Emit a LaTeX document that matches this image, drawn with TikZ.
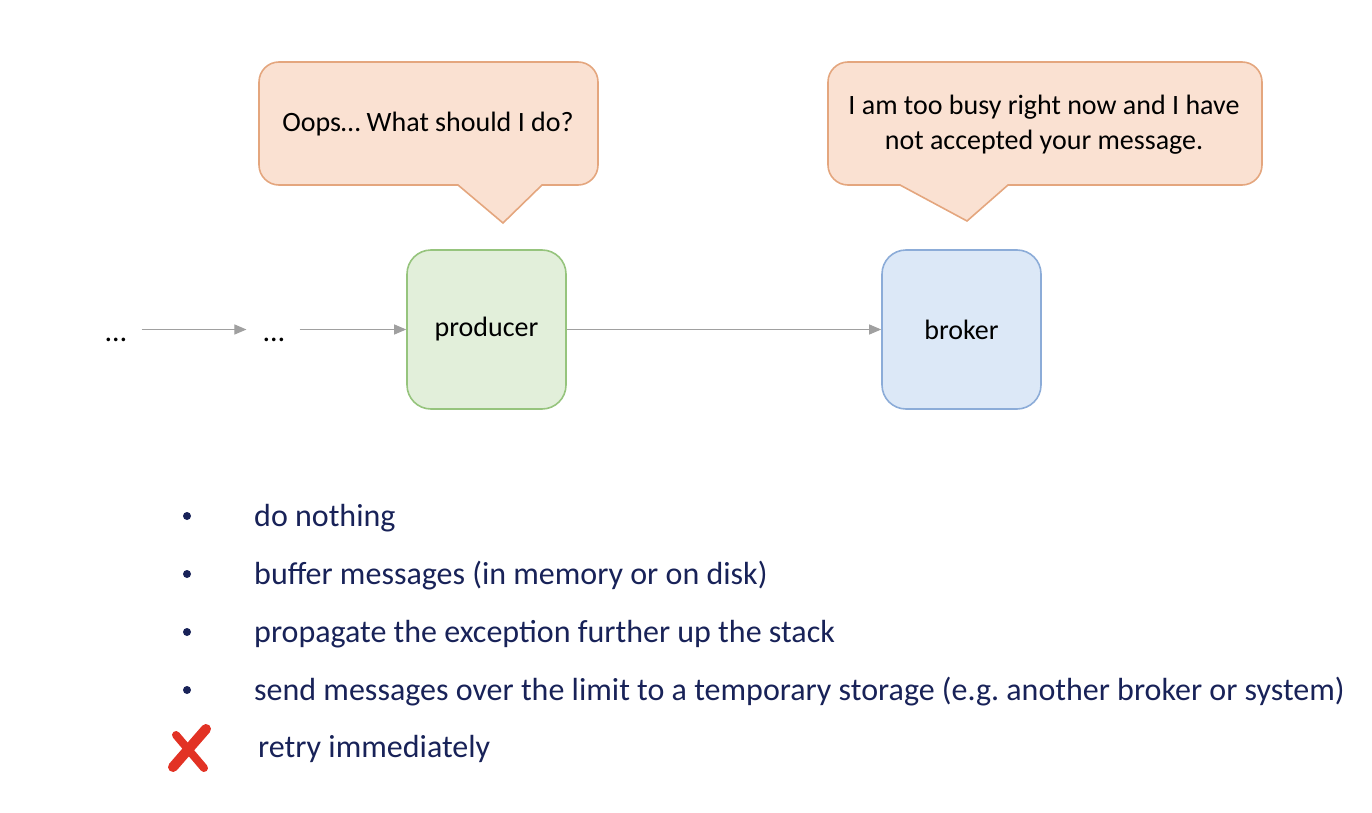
\documentclass[tikz,border=0pt]{standalone}
\usepackage{fontspec}
\setmainfont{Carlito}
\frenchspacing
\usetikzlibrary{arrows.meta}
\definecolor{prodfill}{RGB}{226,239,218}
\definecolor{prodline}{RGB}{150,196,125}
\definecolor{brokfill}{RGB}{220,232,247}
\definecolor{brokline}{RGB}{140,172,216}
\definecolor{bubfill}{RGB}{250,225,210}
\definecolor{bubline}{RGB}{228,166,126}
\definecolor{flow}{RGB}{160,160,160}
\definecolor{navy}{RGB}{24,34,88}
\definecolor{crossred}{RGB}{226,50,36}
\tikzset{
  box/.style={draw, line width=1.6pt, rounded corners=24pt, minimum width=159pt,
    minimum height=159pt, font=\fontsize{28}{33}\selectfont, text=black},
  bubble/.style={draw=bubline, fill=bubfill, line width=1.6pt},
  bubtext/.style={align=center, font=\fontsize{28}{35}\selectfont, text=black},
  flowarrow/.style={draw=flow, line width=1.1pt,
    -{Triangle[length=12pt,width=10pt]}},
  dots/.style={font=\fontsize{30}{32}\selectfont, text=black, inner sep=0pt},
  item/.style={anchor=base west, inner sep=0pt, text=navy,
    font=\fontsize{32}{36}\selectfont},
  bulletdot/.style={circle, fill=navy, inner sep=0pt, minimum size=8pt},
}
\begin{document}
\begin{tikzpicture}[x=1pt, y=-1pt]
  \useasboundingbox (0,0) rectangle (1372,813);

  % speech bubbles
  \draw[bubble] (503,223) -- (458,185)
    {[rounded corners=20pt] -- (259,185) -- (259,62) -- (598,62) -- (598,185)}
    -- (542,185) -- cycle;
  \node[bubtext] (oops) at (428,124) {Oops\ldots\ What should I do?};

  \draw[bubble] (967,221) -- (900,185)
    {[rounded corners=20pt] -- (828,185) -- (828,62) -- (1262,62) -- (1262,185)}
    -- (1008,185) -- cycle;
  \node[bubtext] (busy) at (1044,125) {I am too busy right now and I have\\not accepted your message.};

  % pipeline
  \node[box, draw=prodline, fill=prodfill] (prod) at (486.5,329.5) {producer};
  \node[box, draw=brokline, fill=brokfill] (brok) at (961.5,329.5) {broker};
  \node[dots, anchor=base] (d1) at (116,341) {\ldots};
  \node[dots, anchor=base] (d2) at (274,341) {\ldots};

  \draw[flowarrow] ([xshift=15pt]d1.east |- prod.west)
    -- ([xshift=-17pt]d2.west |- prod.west);
  \draw[flowarrow] ([xshift=15pt]d2.east |- prod.west) -- (prod.west);
  \draw[flowarrow] (prod.east) -- (brok.west);

  % options list
  \node[bulletdot] (b1) at (187,516) {};
  \node[bulletdot] (b2) at (187,574) {};
  \node[bulletdot] (b3) at (187,632) {};
  \node[bulletdot] (b4) at (187,690) {};
  \node[item] (o1) at (254,526) {do nothing};
  \node[item] (o2) at (254,584) {buffer messages (in memory or on disk)};
  \node[item] (o3) at (254,642) {propagate the exception further up the stack};
  \node[item] (o4) at (254,700) {send messages over the limit to a temporary storage (e.g. another broker or system)};
  \node[item] (o5) at (258,757) {retry immediately};

  % red cross
  \draw[crossred, line width=10pt, line cap=round] (206,729) -- (173,767);
  \draw[crossred, line width=8pt, line cap=round] (176,735) -- (204,768);
\end{tikzpicture}
\end{document}
